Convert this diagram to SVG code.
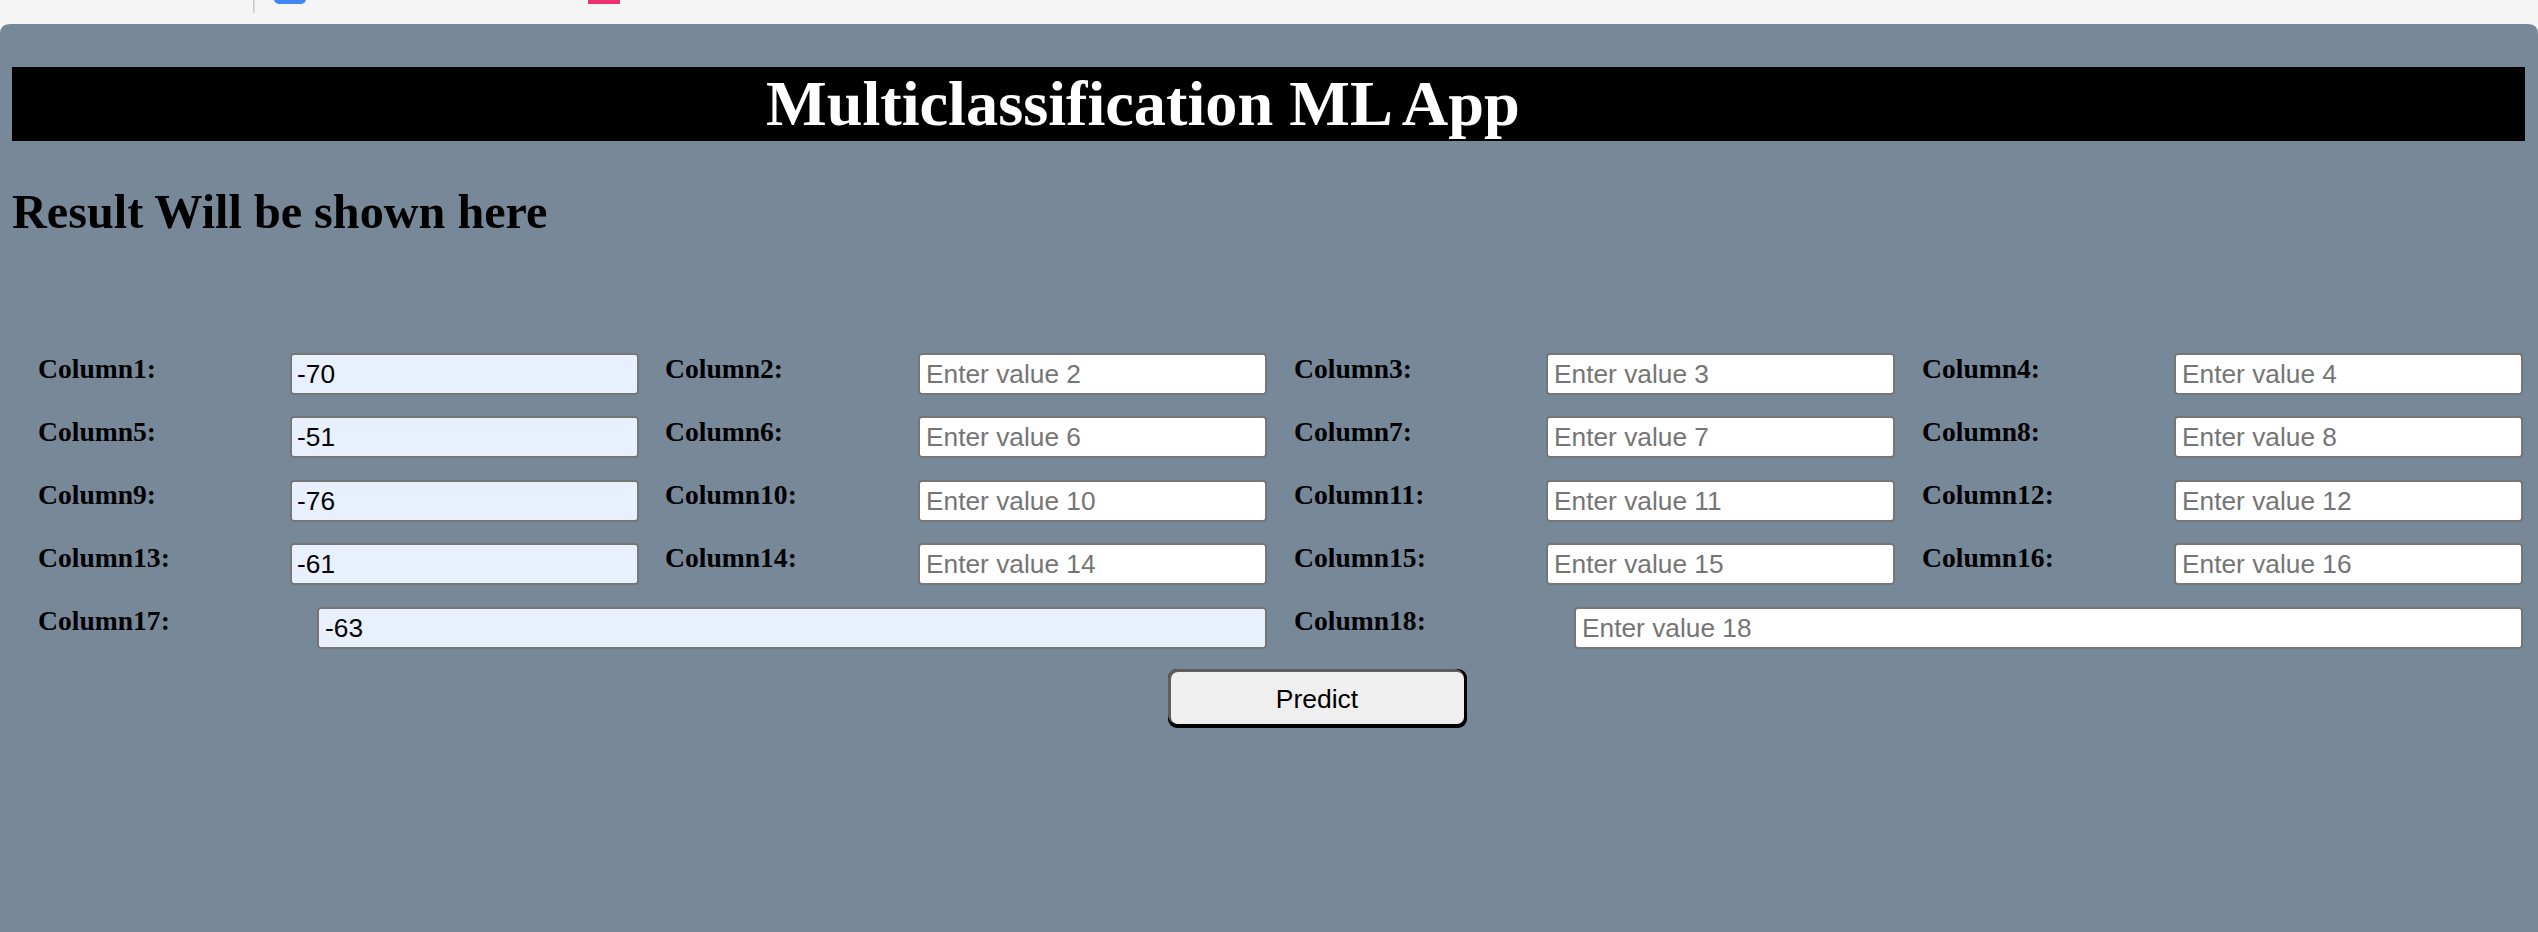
<svg xmlns="http://www.w3.org/2000/svg" width="2538" height="932" viewBox="0 0 2538 932">
<style>
.lbl{font-family:"Liberation Serif","Times New Roman",serif;font-weight:bold;font-size:27.6px;fill:#000}
.box{fill:#fff;stroke:#767676;stroke-width:2}
.fill{fill:#e8f0fe;stroke:#767676;stroke-width:2}
.ph{font-family:"Liberation Sans",Arial,sans-serif;font-size:26.3px;fill:#757575}
.val{font-family:"Liberation Sans",Arial,sans-serif;font-size:26.3px;fill:#000}
</style>
<rect x="0" y="0" width="2538" height="932" fill="#f5f5f5"/>
<g id="browser-bar">
<rect x="253" y="0" width="1.5" height="13" fill="#c8c8c8"/>
<rect x="274" y="-6" width="32" height="10" rx="5" fill="#4285f4"/>
<rect x="588" y="0" width="32" height="4" fill="#f0306f"/>
</g>
<path d="M0 34 Q0 24 10 24 L2528 24 Q2538 24 2538 34 L2538 932 L0 932 Z" fill="#778899"/>
<g id="header">
<rect x="12" y="67" width="2513" height="74" fill="#000"/>
<text x="766" y="125" font-family="'Liberation Serif','Times New Roman',serif" font-weight="bold" font-size="64.3" fill="#fff">Multiclassification ML App</text>
</g>
<g id="result">
<text x="12" y="228" font-family="'Liberation Serif','Times New Roman',serif" font-weight="bold" font-size="48.2" fill="#000">Result Will be shown here</text>
</g>
<g id="field1"><text class="lbl" x="38" y="378">Column1:</text><rect class="fill" x="291" y="354" width="347" height="40" rx="3"/><text class="val" x="297" y="383">-70</text></g>
<g id="field2"><text class="lbl" x="665" y="378">Column2:</text><rect class="box" x="919" y="354" width="347" height="40" rx="3"/><text class="ph" x="926" y="383">Enter value 2</text></g>
<g id="field3"><text class="lbl" x="1294" y="378">Column3:</text><rect class="box" x="1547" y="354" width="347" height="40" rx="3"/><text class="ph" x="1554" y="383">Enter value 3</text></g>
<g id="field4"><text class="lbl" x="1922" y="378">Column4:</text><rect class="box" x="2175" y="354" width="347" height="40" rx="3"/><text class="ph" x="2182" y="383">Enter value 4</text></g>
<g id="field5"><text class="lbl" x="38" y="441">Column5:</text><rect class="fill" x="291" y="417" width="347" height="40" rx="3"/><text class="val" x="297" y="446">-51</text></g>
<g id="field6"><text class="lbl" x="665" y="441">Column6:</text><rect class="box" x="919" y="417" width="347" height="40" rx="3"/><text class="ph" x="926" y="446">Enter value 6</text></g>
<g id="field7"><text class="lbl" x="1294" y="441">Column7:</text><rect class="box" x="1547" y="417" width="347" height="40" rx="3"/><text class="ph" x="1554" y="446">Enter value 7</text></g>
<g id="field8"><text class="lbl" x="1922" y="441">Column8:</text><rect class="box" x="2175" y="417" width="347" height="40" rx="3"/><text class="ph" x="2182" y="446">Enter value 8</text></g>
<g id="field9"><text class="lbl" x="38" y="504">Column9:</text><rect class="fill" x="291" y="481" width="347" height="40" rx="3"/><text class="val" x="297" y="510">-76</text></g>
<g id="field10"><text class="lbl" x="665" y="504">Column10:</text><rect class="box" x="919" y="481" width="347" height="40" rx="3"/><text class="ph" x="926" y="510">Enter value 10</text></g>
<g id="field11"><text class="lbl" x="1294" y="504">Column11:</text><rect class="box" x="1547" y="481" width="347" height="40" rx="3"/><text class="ph" x="1554" y="510">Enter value 11</text></g>
<g id="field12"><text class="lbl" x="1922" y="504">Column12:</text><rect class="box" x="2175" y="481" width="347" height="40" rx="3"/><text class="ph" x="2182" y="510">Enter value 12</text></g>
<g id="field13"><text class="lbl" x="38" y="567">Column13:</text><rect class="fill" x="291" y="544" width="347" height="40" rx="3"/><text class="val" x="297" y="573">-61</text></g>
<g id="field14"><text class="lbl" x="665" y="567">Column14:</text><rect class="box" x="919" y="544" width="347" height="40" rx="3"/><text class="ph" x="926" y="573">Enter value 14</text></g>
<g id="field15"><text class="lbl" x="1294" y="567">Column15:</text><rect class="box" x="1547" y="544" width="347" height="40" rx="3"/><text class="ph" x="1554" y="573">Enter value 15</text></g>
<g id="field16"><text class="lbl" x="1922" y="567">Column16:</text><rect class="box" x="2175" y="544" width="347" height="40" rx="3"/><text class="ph" x="2182" y="573">Enter value 16</text></g>
<g id="field17"><text class="lbl" x="38" y="630">Column17:</text><rect class="fill" x="318" y="608" width="948" height="40" rx="3"/><text class="val" x="325" y="637">-63</text></g>
<g id="field18"><text class="lbl" x="1294" y="630">Column18:</text><rect class="box" x="1575" y="608" width="947" height="40" rx="3"/><text class="ph" x="1582" y="637">Enter value 18</text></g>
<g id="predict">
<rect x="1168" y="669" width="299" height="59" rx="9" fill="#000"/>
<rect x="1168" y="669" width="296" height="55" rx="9" fill="#5e5e5e"/>
<rect x="1171" y="672" width="293" height="52" rx="7" fill="#efefef"/>
<text x="1317" y="708" text-anchor="middle" font-family="'Liberation Sans',Arial,sans-serif" font-size="26.5" fill="#000">Predict</text>
</g>
<g id="connectors"/>
</svg>
